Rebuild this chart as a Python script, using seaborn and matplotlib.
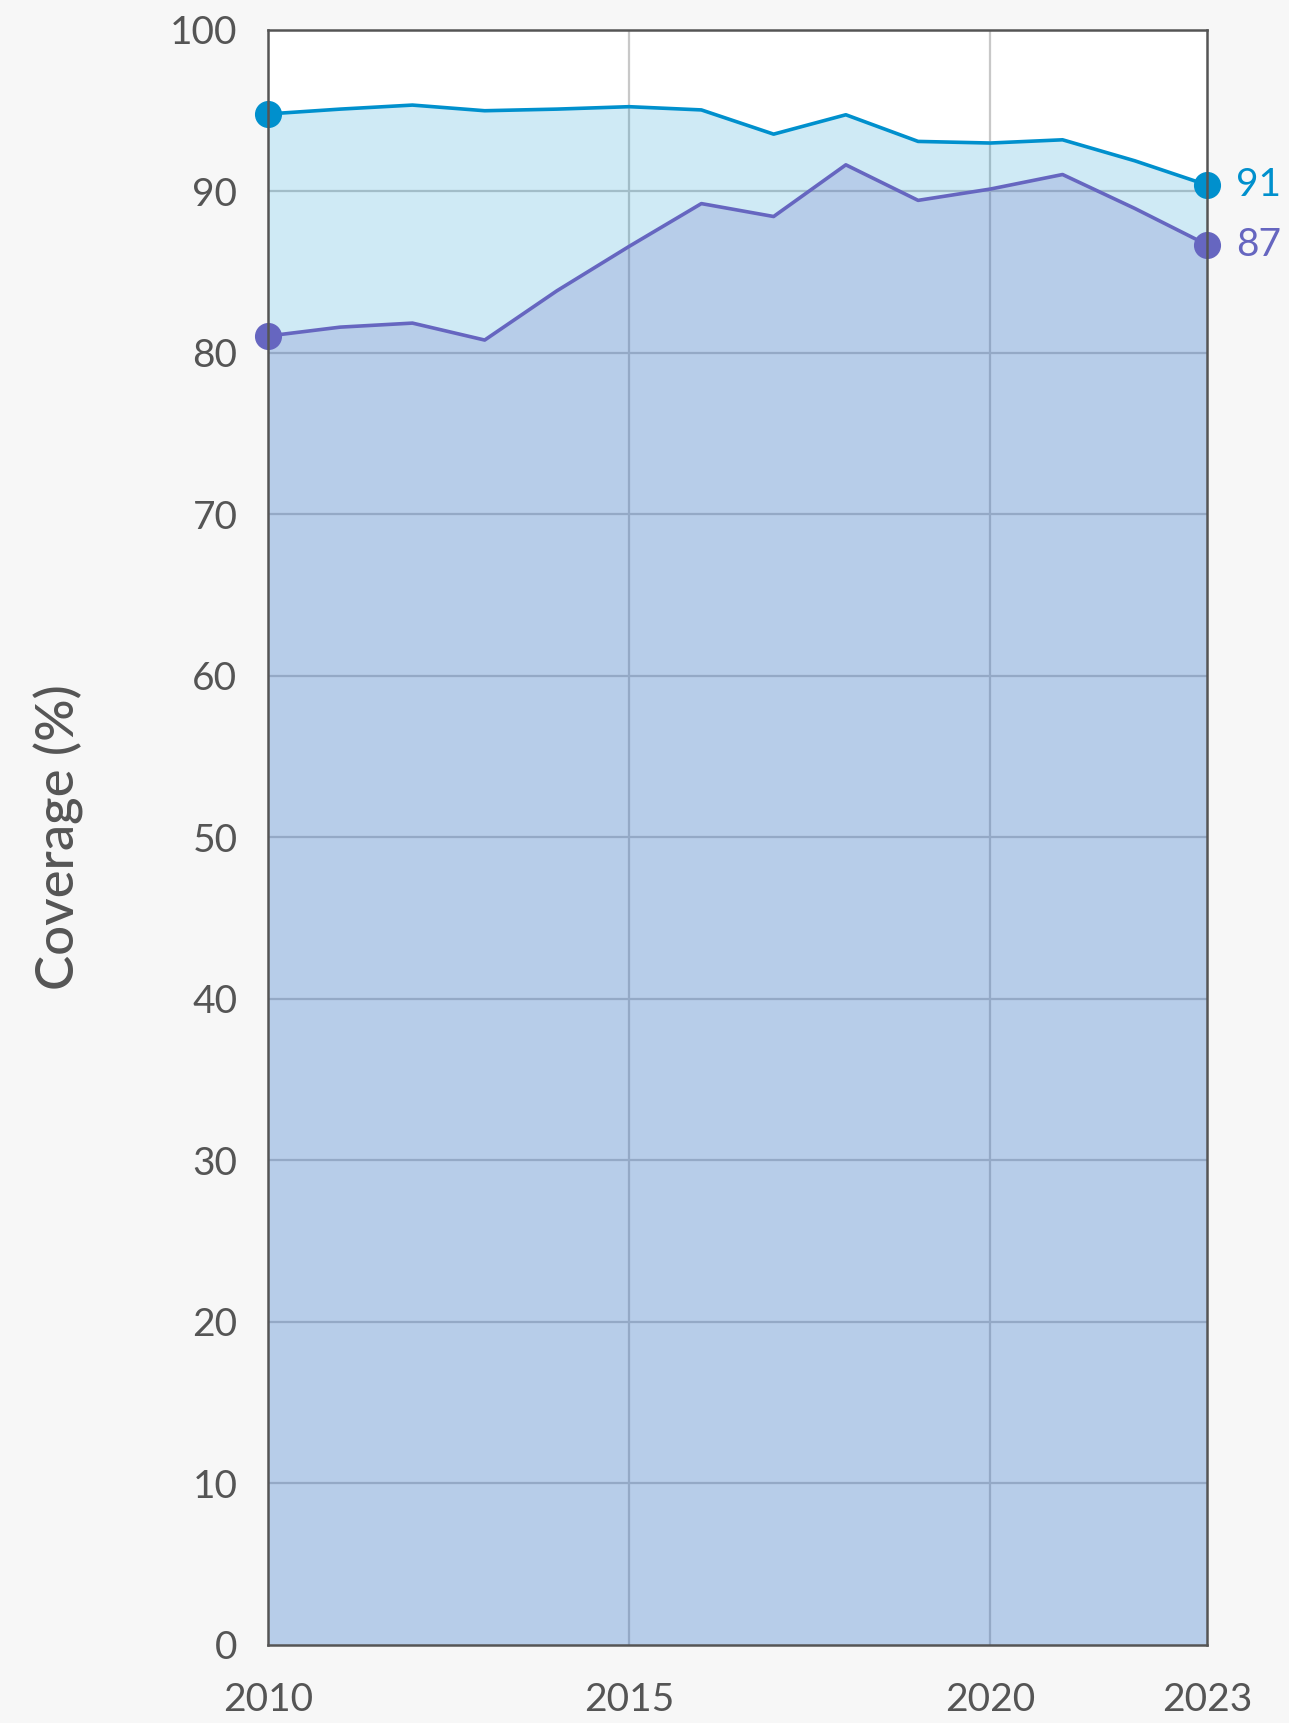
import numpy as np
import pandas as pd
import seaborn as sns
import matplotlib.pyplot as plt

# values
years = list(range(2010, 2024))
blue_vals = [94.8, 95.1, 95.35, 95.0, 95.1, 95.25, 95.05, 93.55, 94.75, 93.1, 93.0, 93.2, 91.9, 90.4]
purple_vals = [81.05, 81.6, 81.85, 80.8, 83.85, 86.6, 89.25, 88.45, 91.65, 89.45, 90.15, 91.05, 88.95, 86.7]
end_labels = ["91", "87"]
y_ticks = list(range(0, 101, 10))
x_ticks = [2010, 2015, 2020, 2023]

blue = "#0090CD"
purple = "#6666C0"
text_grey = "#555555"

df = pd.DataFrame({"year": years, "blue": blue_vals, "purple": purple_vals})

sns.set_style("white")
plt.rcParams["font.family"] = ["Lato", "DejaVu Sans"]

fig = plt.figure(figsize=(12.89, 17.23), dpi=100, facecolor="#F7F7F7")
ax = fig.add_axes([0.2079, 0.0453, 0.7285, 0.9373])
ax.set_facecolor("white")

# grid under the see-through areas
for v in y_ticks[1:-1]:
    ax.axhline(v, color="#C8C8C8", lw=1.6, zorder=1)
for v in [2015, 2020]:
    ax.axvline(v, color="#C8C8C8", lw=1.6, zorder=1)

ax.fill_between(df["year"], 0, df["blue"], color=blue, alpha=0.19, lw=0, zorder=2)
ax.fill_between(df["year"], 0, df["purple"], color=purple, alpha=0.22, lw=0, zorder=3)

sns.lineplot(data=df, x="year", y="blue", color=blue, lw=2.6, ax=ax, zorder=5)
sns.lineplot(data=df, x="year", y="purple", color=purple, lw=2.6, ax=ax, zorder=5)

# dots at both ends of each line
ends = df.iloc[[0, -1]]
for col, c in [("blue", blue), ("purple", purple)]:
    ax.plot(ends["year"], ends[col], "o", color=c, ms=18.5, zorder=6, clip_on=False)

for col, c, lab in [("blue", blue, end_labels[0]), ("purple", purple, end_labels[1])]:
    ax.annotate(lab, (df["year"].iloc[-1], df[col].iloc[-1]), xytext=(21, 0),
                textcoords="offset points", va="center", ha="left",
                color=c, fontsize=28, annotation_clip=False)

ax.set_xlim(2010, 2023)
ax.set_ylim(0, 100)
ax.set_xticks(x_ticks)
ax.set_yticks(y_ticks)
ax.tick_params(axis="x", length=13, width=1.5, color=text_grey, labelsize=28,
               labelcolor=text_grey, pad=14)
ax.tick_params(axis="y", length=0, labelsize=28, labelcolor=text_grey, pad=22)

for s in ax.spines.values():
    s.set_visible(True)
    s.set_color(text_grey)
    s.set_linewidth(1.8)
    s.set_zorder(7)

ax.set_xlabel("")
ax.set_ylabel("Coverage (%)", fontsize=38, color=text_grey, fontweight="medium", labelpad=62)

fig.savefig("out.png", dpi=100, facecolor=fig.get_facecolor())
